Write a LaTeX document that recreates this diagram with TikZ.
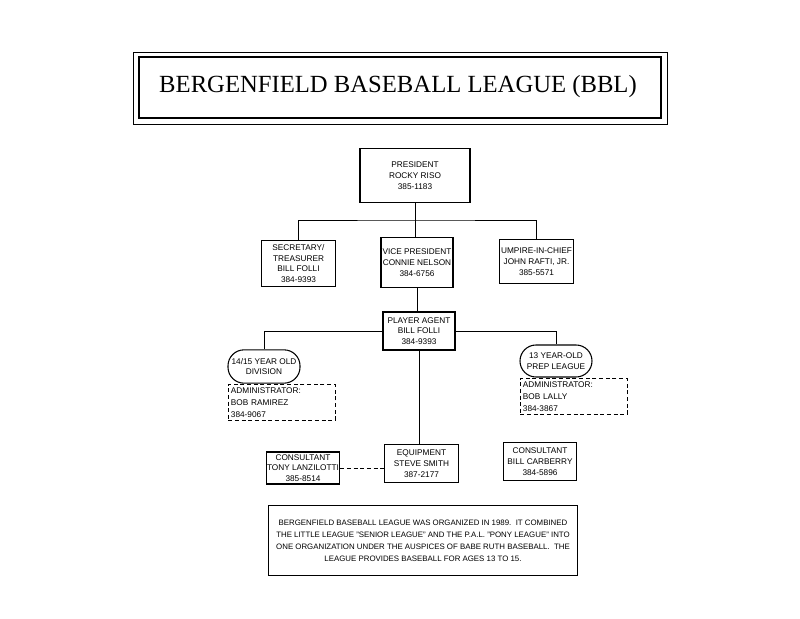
\documentclass[tikz,border=0pt]{standalone}
\usepackage{fontspec}
\setmainfont{Liberation Sans}
\newfontfamily\titlefont{Liberation Serif}
\begin{document}
\begin{tikzpicture}[x=0.75pt,y=-0.75pt,
  box/.style={draw,thick,rectangle,inner sep=0pt,font=\fontsize{6.2}{8}\selectfont,align=center},
  rbox/.style={draw,thick,rounded corners=12pt,inner sep=0pt,font=\fontsize{6.2}{8}\selectfont,align=center},
  adm/.style={draw,densely dashed,inner ysep=1pt,inner xsep=2pt,font=\fontsize{6.2}{9}\selectfont,align=left,anchor=north west,text width=76pt,minimum height=27pt},
  ln/.style={thin}]
\useasboundingbox (0,0) rectangle (800,618);
% title
\draw[thin] (133,52) rectangle (667,124);
\draw[thick] (139,57) rectangle (661,118);
\node (title) at (398,87) {\titlefont\fontsize{18.5}{21}\selectfont BERGENFIELD BASEBALL LEAGUE (BBL)};
\node[box,minimum width=82.5pt,minimum height=41pt] (pres) at (415,175.5) {PRESIDENT\\ROCKY RISO\\385-1183};
\node[box,minimum width=55pt,minimum height=35pt] (sec) at (298.5,263.5) {SECRETARY/\\TREASURER\\BILL FOLLI\\384-9393};
\node[box,minimum width=54pt,minimum height=37pt] (vp) at (417,262.5) {VICE PRESIDENT\\CONNIE NELSON\\384-6756};
\node[box,minimum width=55pt,minimum height=33pt] (ump) at (536.5,261.5) {UMPIRE-IN-CHIEF\\JOHN RAFTI, JR.\\385-5571};
\node[box,minimum width=54pt,minimum height=28.5pt] (pa) at (419,331) {PLAYER AGENT\\BILL FOLLI\\384-9393};
\node[rbox,minimum width=54pt,minimum height=25pt] (d14) at (264,366.5) {14/15 YEAR OLD\\DIVISION};
\node[rbox,minimum width=54pt,minimum height=24pt] (d13) at (556,361) {13 YEAR-OLD\\PREP LEAGUE};
\node[adm] (a14) at (228,384) {ADMINISTRATOR:\\BOB RAMIREZ\\384-9067};
\node[adm] (a13) at (520,378) {ADMINISTRATOR:\\BOB LALLY\\384-3867};
\node[box,minimum width=55pt,minimum height=24pt] (tony) at (303,468) {CONSULTANT\\TONY LANZILOTTI\\385-8514};
\node[box,minimum width=55pt,minimum height=28pt] (eq) at (421.5,463.5) {EQUIPMENT\\STEVE SMITH\\387-2177};
\node[box,minimum width=55pt,minimum height=28pt] (bill) at (540,461.5) {CONSULTANT\\BILL CARBERRY\\384-5896};
\node[box,minimum width=232pt,minimum height=52pt,font=\fontsize{5.9}{9}\selectfont] (note) at (423,540.5) {BERGENFIELD BASEBALL LEAGUE WAS ORGANIZED IN 1989.\ \ IT COMBINED\\THE LITTLE LEAGUE "SENIOR LEAGUE" AND THE P.A.L. "PONY LEAGUE" INTO\\ONE ORGANIZATION UNDER THE AUSPICES OF BABE RUTH BASEBALL.\ \ THE\\LEAGUE PROVIDES BASEBALL FOR AGES 13 TO 15.};
% connectors
\coordinate (j1) at (pres.south |- 0,220);
\draw[ln] (pres.south) -- (pres.south |- vp.north);
\draw[ln] (sec.north) |- (j1) -| (ump.north);
\draw[ln] (vp.south) -- (vp.south |- pa.north);
\draw[ln] (pa.west) -| (d14.north);
\draw[ln] (pa.east) -| (d13.north);
\draw[ln] (pa.south) -- (pa.south |- eq.north);
\draw[ln,densely dashed] (tony.east) -- (tony.east -| eq.west);
\end{tikzpicture}
\end{document}
